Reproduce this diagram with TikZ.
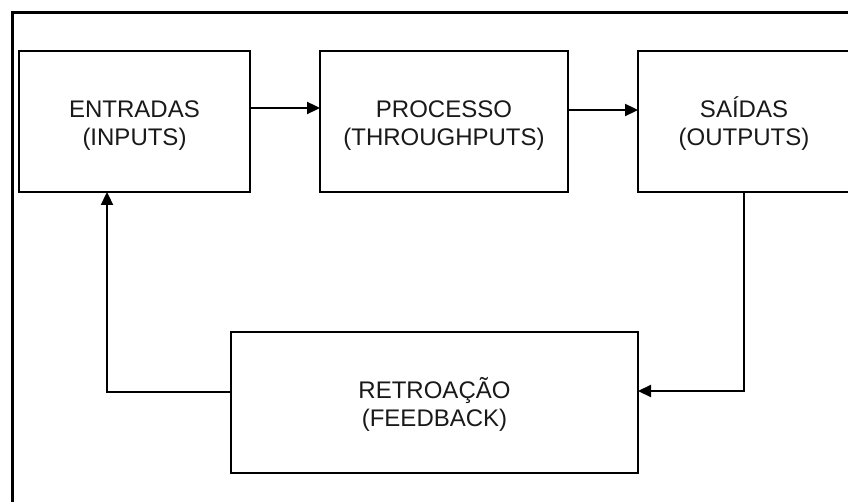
\documentclass[tikz,border=0pt]{standalone}
\usepackage{fontspec}
\setmainfont{Liberation Sans}
\usetikzlibrary{arrows.meta}
\newcommand\twolines[2]{\raisebox{-4pt}[\height][\depth]{\begin{tabular}{@{}c@{}}#1\\[-0.5pt]#2\end{tabular}}}
\tikzset{
  blockbox/.style={draw=black, line width=2.6pt, minimum height=141pt, align=center,
    font=\fontsize{24}{29}\selectfont, text=black!90, inner sep=0pt, outer sep=0pt},
  conn/.style={draw=black, line width=2.3pt, -{Triangle[length=13pt,width=12pt]}},
  frame/.style={draw=black, line width=2.8pt}
}
\begin{document}
\begin{tikzpicture}[x=1pt,y=-1pt]
\useasboundingbox (0,0) rectangle (848,502);
\clip (0,0) rectangle (848,502);
\fill[white] (0,0) rectangle (848,502);
\draw[frame] (12.5,12.5) rectangle (870,530);
\node[blockbox, minimum width=231pt] (in) at (134.5,121.5) {\twolines{ENTRADAS}{(INPUTS)}};
\node[blockbox, minimum width=248pt] (proc) at (444,121.5) {\twolines{PROCESSO}{(THROUGHPUTS)}};
\node[blockbox, minimum width=212pt] (out) at (744,121.5) {\twolines{SAÍDAS}{(OUTPUTS)}};
\node[blockbox, minimum width=407pt] (fb) at (434.5,402.5) {\twolines{RETROAÇÃO}{(FEEDBACK)}};
\draw[conn] (in.east |- 0,108) -- (proc.west |- 0,108);
\draw[conn] (proc.east |- 0,110) -- (out.west |- 0,110);
\draw[conn] (out.south) |- (fb.east |- 0,391);
\draw[conn] (fb.west |- 0,392) -| (in.south -| 107,0);
\end{tikzpicture}
\end{document}
